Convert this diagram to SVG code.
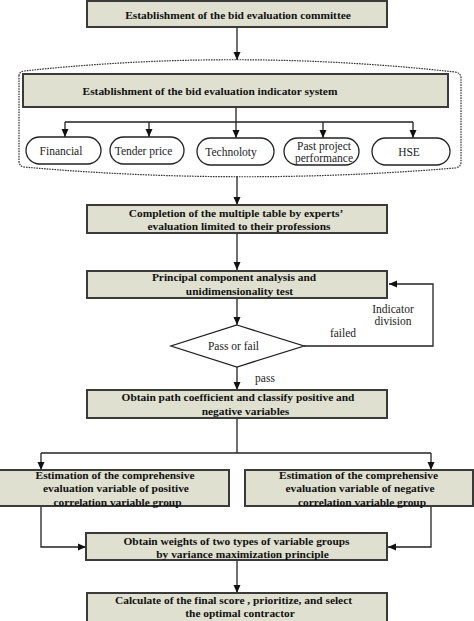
<svg xmlns="http://www.w3.org/2000/svg" width="474" height="621" viewBox="0 0 474 621">
<defs>
<marker id="ah" markerWidth="8" markerHeight="8" viewBox="0 0 8 8" refX="8" refY="4" orient="auto" markerUnits="userSpaceOnUse">
<path d="M0,0.5 L8,4 L0,7.5 Z" fill="#111"/>
</marker>
<style>
.box{fill:#dfe0d0;stroke:#3a3a3a;stroke-width:2}
.pill{fill:#fff;stroke:#222;stroke-width:1.3}
.b{font-family:"Liberation Serif","Times New Roman",serif;font-weight:bold;font-size:11.4px;fill:#111;text-anchor:middle}
.r{font-family:"Liberation Serif","Times New Roman",serif;font-size:11.5px;fill:#222;text-anchor:middle}
.ln{fill:none;stroke:#222;stroke-width:1.3}
.ar{fill:none;stroke:#222;stroke-width:1.3;marker-end:url(#ah)}
</style>
</defs>
<rect width="474" height="621" fill="#fff"/>

<g id="container">
<path d="M19,76 Q19,72 24,71 Q237,48 455,72 Q461,73 461,78 L461,162 Q461,167 455,168 Q237,186 24,167 Q19,166 19,161 Z" fill="none" stroke="#333" stroke-width="1.2" stroke-dasharray="1.6 1"/>
</g>

<g id="connectors">
<path class="ar" d="M237,27 L237,60"/>
<path class="ln" d="M236,107 L236,122 M65,122 L413,122"/>
<path class="ar" d="M65,122 L65,137"/>
<path class="ar" d="M149,122 L149,137"/>
<path class="ar" d="M236,122 L236,138"/>
<path class="ar" d="M323,122 L323,138"/>
<path class="ar" d="M413,122 L413,138"/>
<path class="ar" d="M237,176 L237,205"/>
<path class="ar" d="M237,233 L237,270"/>
<path class="ar" d="M237,298 L237,325"/>
<path class="ar" d="M304,346 L433,346 L433,284 L389,284"/>
<path class="ar" d="M237,367 L237,390"/>
<path class="ln" d="M237,418 L237,453"/>
<path class="ln" d="M41,453 L431,453"/>
<path class="ar" d="M41,453 L41,470"/>
<path class="ar" d="M431,453 L431,470"/>
<path class="ar" d="M41,506 L41,547 L86,547"/>
<path class="ar" d="M431,506 L431,547 L388,547"/>
<path class="ar" d="M237,560 L237,593"/>
</g>

<g id="n1">
<rect class="box" x="87" y="1" width="300" height="26"/>
<text class="b" x="238" y="18.5">Establishment of the bid evaluation committee</text>
</g>

<g id="n2">
<rect class="box" x="23" y="74" width="425" height="33"/>
<text class="b" x="210" y="94.5">Establishment of the bid evaluation indicator system</text>
</g>

<g id="p1">
<rect class="pill" x="26" y="137" width="75" height="27" rx="13.5"/>
<text class="r" x="61" y="154.5">Financial</text>
</g>
<g id="p2">
<rect class="pill" x="110" y="137" width="74" height="27" rx="13.5"/>
<text class="r" x="143.5" y="154.5">Tender price</text>
</g>
<g id="p3">
<rect class="pill" x="197" y="138" width="77" height="27" rx="13.5"/>
<text class="r" x="231" y="155.5">Technoloty</text>
</g>
<g id="p4">
<rect class="pill" x="284" y="138" width="75" height="27" rx="13.5"/>
<text class="r" x="324" y="149.5">Past project</text>
<text class="r" x="324" y="162">performance</text>
</g>
<g id="p5">
<rect class="pill" x="372" y="138" width="78" height="27" rx="13.5"/>
<text class="r" x="409" y="156">HSE</text>
</g>

<g id="n3">
<rect class="box" x="87" y="205" width="300" height="28"/>
<text class="b" x="236" y="216.5">Completion of the multiple table by experts’</text>
<text class="b" x="239" y="230">evaluation limited to their professions</text>
</g>

<g id="n4">
<rect class="box" x="87" y="271" width="300" height="27"/>
<text class="b" x="234" y="281">Principal component analysis and</text>
<text class="b" x="239.5" y="294.5">unidimensionality test</text>
</g>

<g id="n5">
<path d="M237,325 L304,346 L237,367 L171,346 Z" fill="#fff" stroke="#222" stroke-width="1.3"/>
<text class="r" x="233.5" y="349.5">Pass or fail</text>
</g>

<g id="labels">
<text class="r" x="393" y="312.5">Indicator</text>
<text class="r" x="393" y="325">division</text>
<text class="r" x="343" y="336.5">failed</text>
<text class="r" x="265" y="382">pass</text>
</g>

<g id="n6">
<rect class="box" x="87" y="390" width="300" height="28"/>
<text class="b" x="238" y="401">Obtain path coefficient and classify  positive  and</text>
<text class="b" x="245.5" y="414.5">negative variables</text>
</g>

<g id="n7">
<rect class="box" x="-1" y="470" width="230" height="36"/>
<text class="b" x="115" y="479">Estimation of the comprehensive</text>
<text class="b" x="116" y="492">evaluation variable of positive</text>
<text class="b" x="117.5" y="505.5">correlation variable group</text>
</g>

<g id="n8">
<rect class="box" x="245" y="470" width="228" height="36"/>
<text class="b" x="358.5" y="479">Estimation of the comprehensive</text>
<text class="b" x="360" y="492">evaluation variable of negative</text>
<text class="b" x="362" y="505.5">correlation variable group</text>
</g>

<g id="n9">
<rect class="box" x="86" y="533" width="301" height="27"/>
<text class="b" x="236.5" y="545">Obtain  weights of two types of variable groups</text>
<text class="b" x="242.5" y="558">by variance maximization principle</text>
</g>

<g id="n10">
<rect class="box" x="87" y="593" width="300" height="32"/>
<text class="b" x="233.5" y="604">Calculate of the final score , prioritize, and select</text>
<text class="b" x="240" y="617">the optimal contractor</text>
</g>
</svg>
